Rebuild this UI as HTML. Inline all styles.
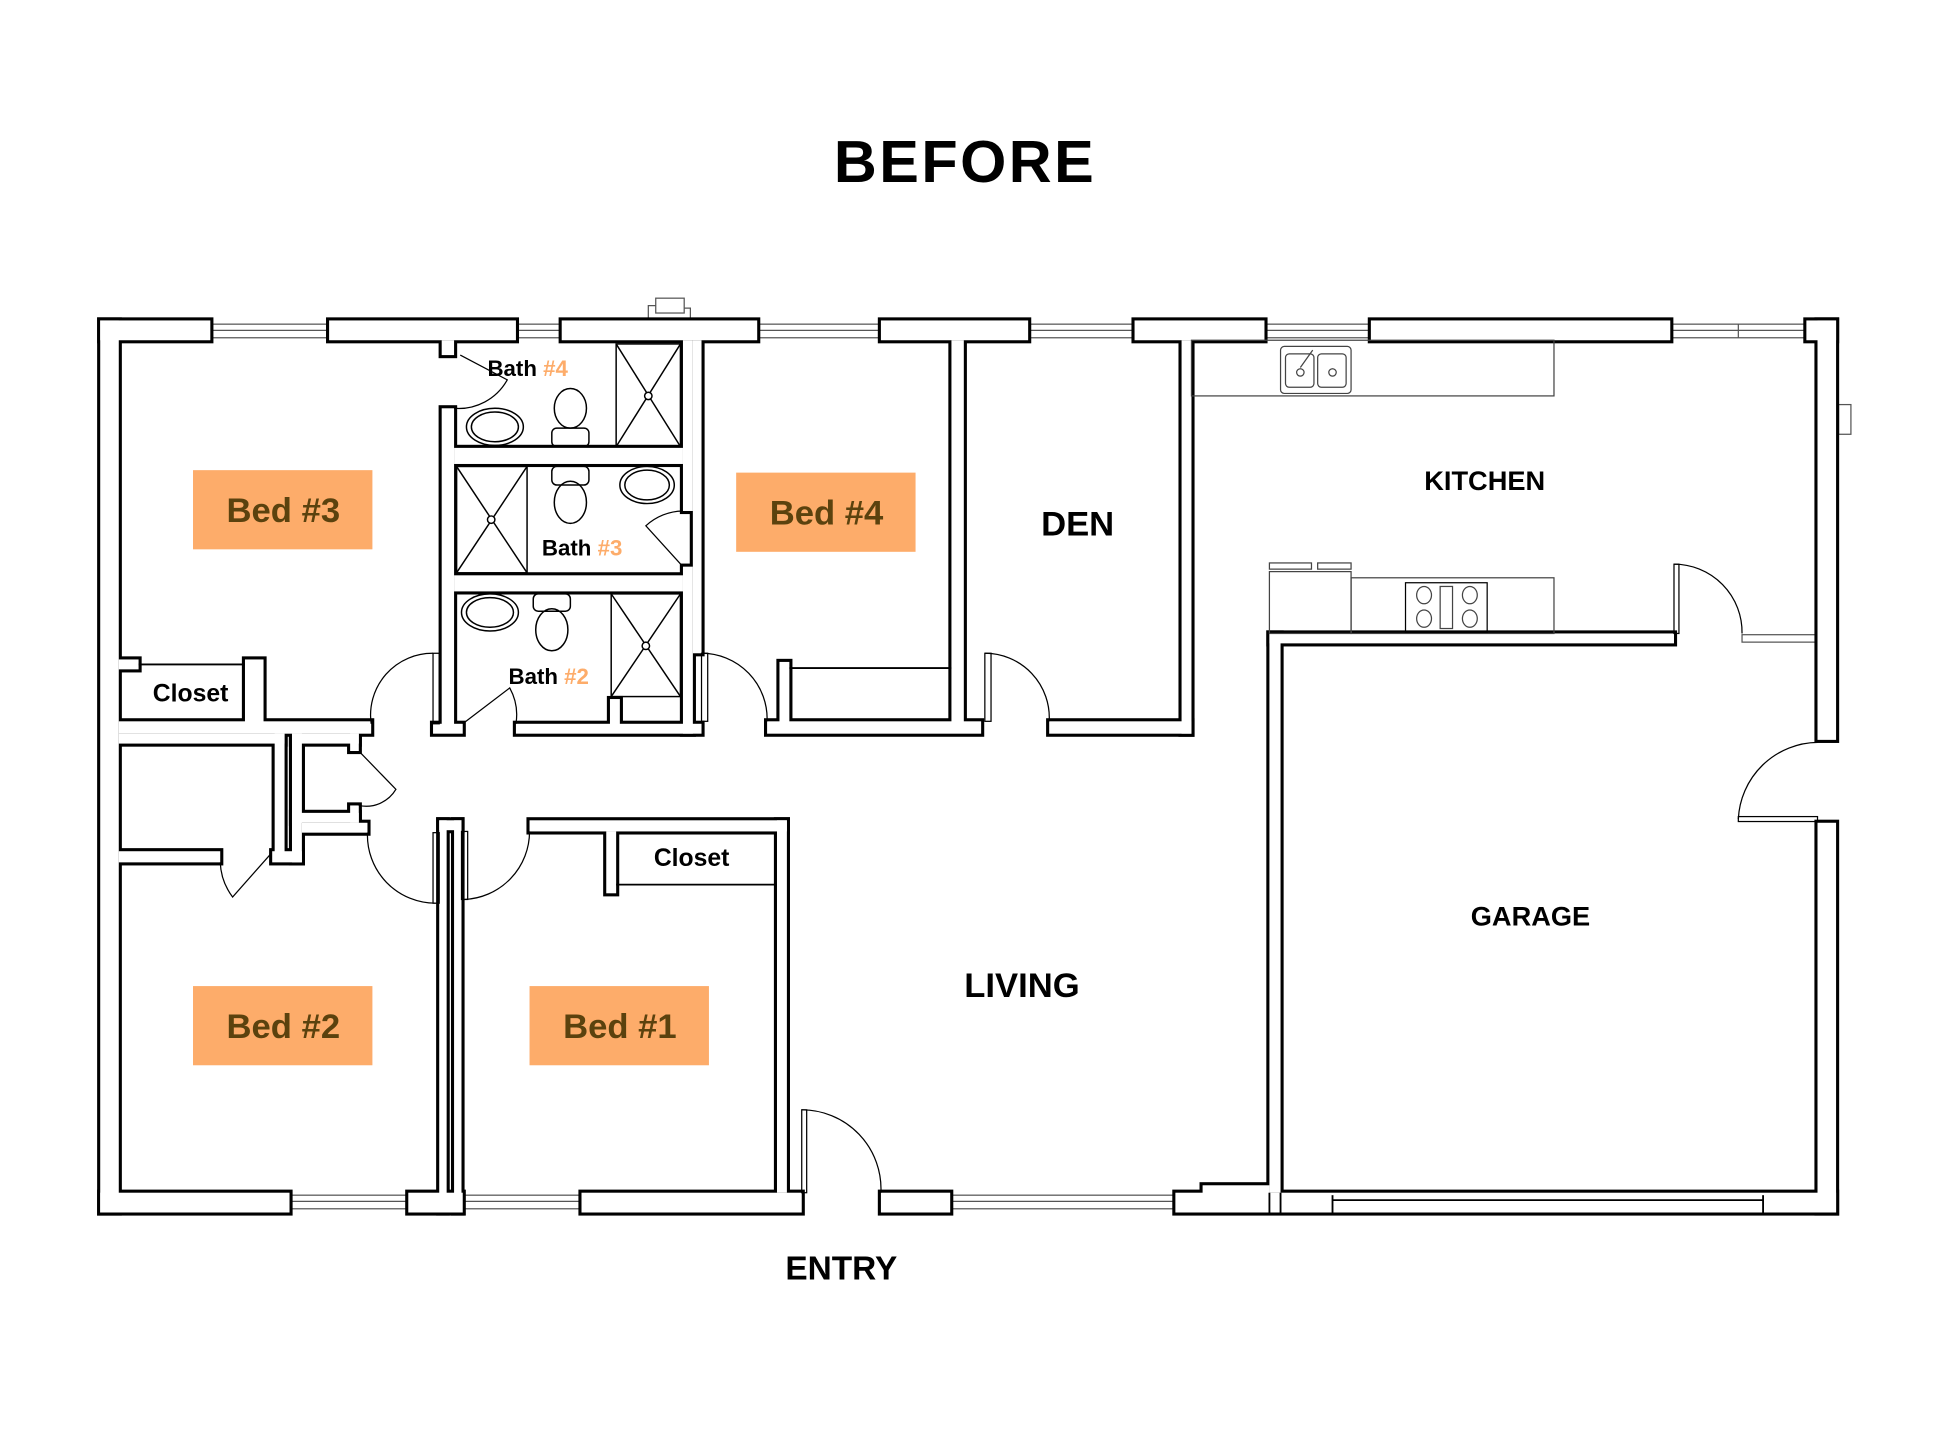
<!DOCTYPE html>
<html><head><meta charset="utf-8"><style>
html,body{margin:0;padding:0;background:#fff;}
svg{display:block;}
text{font-family:"Liberation Sans",sans-serif;}
</style></head><body>
<svg width="1940" height="1455" viewBox="0 0 1568 1176" preserveAspectRatio="none" xmlns="http://www.w3.org/2000/svg">
<defs>
<g id="walls">
<rect x="81" y="259" width="15" height="721"/>
<rect x="81" y="259" width="89" height="16"/>
<rect x="266" y="259" width="151" height="16"/>
<rect x="454" y="259" width="158" height="16"/>
<rect x="712" y="259" width="119" height="16"/>
<rect x="917" y="259" width="105" height="16"/>
<rect x="1108" y="259" width="242" height="16"/>
<rect x="1460" y="259" width="24" height="16"/>
<rect x="1469" y="259" width="15" height="339"/>
<rect x="1469" y="665" width="15" height="315"/>
<rect x="81" y="964" width="153" height="16"/>
<rect x="330" y="964" width="44" height="16"/>
<rect x="470" y="964" width="178" height="16"/>
<rect x="712" y="964" width="56" height="16"/>
<rect x="950" y="964" width="534" height="16"/>
<rect x="972" y="958" width="54" height="8"/>
<rect x="357" y="330" width="10" height="262"/>
<rect x="357" y="275" width="10" height="12"/>
<rect x="552" y="275" width="8" height="138"/>
<rect x="552" y="458" width="8" height="135"/>
<rect x="560" y="275" width="7" height="253"/>
<rect x="367" y="362" width="185" height="13"/>
<rect x="367" y="465" width="185" height="13"/>
<rect x="417" y="585" width="150" height="8"/>
<rect x="493" y="565" width="8" height="22"/>
<rect x="350" y="585" width="24" height="8"/>
<rect x="96" y="583" width="204" height="10"/>
<rect x="96" y="533" width="16" height="8"/>
<rect x="198" y="533" width="15" height="52"/>
<rect x="620" y="583" width="173" height="10"/>
<rect x="630" y="535" width="8" height="50"/>
<rect x="769" y="275" width="10" height="310"/>
<rect x="848" y="583" width="115" height="10"/>
<rect x="955" y="275" width="8" height="318"/>
<rect x="1026" y="512" width="327" height="8"/>
<rect x="1026" y="512" width="9" height="452"/>
<rect x="96" y="593" width="134" height="8"/>
<rect x="222" y="593" width="8" height="97"/>
<rect x="96" y="688" width="82" height="9"/>
<rect x="220" y="688" width="24" height="9"/>
<rect x="236" y="593" width="8" height="104"/>
<rect x="236" y="593" width="54" height="8"/>
<rect x="236" y="657" width="54" height="8"/>
<rect x="283" y="593" width="7" height="14"/>
<rect x="283" y="651" width="7" height="14"/>
<rect x="244" y="665" width="53" height="8"/>
<rect x="355" y="663" width="18" height="8"/>
<rect x="355" y="663" width="6" height="317"/>
<rect x="367" y="663" width="6" height="317"/>
<rect x="428" y="663" width="208" height="9"/>
<rect x="628" y="663" width="8" height="301"/>
<rect x="490" y="672" width="8" height="50"/>
</g>
</defs>
<rect width="1568" height="1176" fill="#fff"/>
<text x="780" y="147" text-anchor="middle" font-size="48" font-weight="bold" letter-spacing="2">BEFORE</text>

<g fill="#fff" stroke="#555" stroke-width="1">
<rect x="170" y="262" width="96" height="11"/><line x1="170" y1="267" x2="266" y2="267"/>
<rect x="417" y="262" width="37" height="11"/><line x1="417" y1="267" x2="454" y2="267"/>
<rect x="612" y="262" width="100" height="11"/><line x1="612" y1="267" x2="712" y2="267"/>
<rect x="831" y="262" width="86" height="11"/><line x1="831" y1="267" x2="917" y2="267"/>
<rect x="1022" y="262" width="86" height="11"/><line x1="1022" y1="267" x2="1108" y2="267"/>
<rect x="1350" y="262" width="110" height="11"/><line x1="1350" y1="267" x2="1460" y2="267"/><line x1="1405" y1="262" x2="1405" y2="273"/>
<rect x="234" y="966" width="96" height="11"/><line x1="234" y1="971" x2="330" y2="971"/>
<rect x="374" y="966" width="96" height="11"/><line x1="374" y1="971" x2="470" y2="971"/>
<rect x="768" y="966" width="182" height="11"/><line x1="768" y1="971" x2="950" y2="971"/>
<rect x="1408" y="513" width="61" height="6"/>
<rect x="1486" y="327" width="10" height="24"/>
<rect x="530" y="241" width="23" height="12"/>
<path d="M524 265 V247 H530 M553 249 H558 V265" fill="none"/>
</g>

<use href="#walls" fill="#000" stroke="#000" stroke-width="5"/>
<use href="#walls" fill="#fff" stroke="none"/>

<g fill="none" stroke="#000" stroke-width="1.5">
<line x1="1077" y1="966" x2="1077" y2="980"/><line x1="1425" y1="966" x2="1425" y2="980"/>
<line x1="1077" y1="970" x2="1425" y2="970"/>
<line x1="1026" y1="964" x2="1026" y2="980"/><line x1="1035" y1="964" x2="1035" y2="980"/>
<line x1="112" y1="537" x2="198" y2="537"/>
<line x1="498" y1="715" x2="628" y2="715"/>
<line x1="638" y1="540" x2="769" y2="540"/>
</g>

<g fill="none" stroke="#444" stroke-width="1">
<rect x="963" y="275" width="293" height="45"/>
<rect x="1035" y="280" width="57" height="38" rx="3"/>
<rect x="1039" y="286" width="23" height="27" rx="3"/><rect x="1065" y="286" width="23" height="27" rx="3"/>
<circle cx="1051" cy="301" r="3"/><circle cx="1077" cy="301" r="3"/>
<line x1="1051" y1="297" x2="1061" y2="283"/>
<rect x="1026" y="462" width="66" height="50"/>
<rect x="1026" y="455" width="34" height="5"/><rect x="1065" y="455" width="27" height="5"/>
<rect x="1092" y="467" width="164" height="45"/>
<rect x="1136" y="471" width="66" height="40" stroke="#000"/>
<ellipse cx="1151" cy="481" rx="6" ry="7"/><ellipse cx="1188" cy="481" rx="6" ry="7"/>
<ellipse cx="1151" cy="500" rx="6" ry="7"/><ellipse cx="1188" cy="500" rx="6" ry="7"/>
<rect x="1164" y="474" width="10" height="34"/>
</g>

<g fill="none" stroke="#000" stroke-width="1.2">
<rect x="498" y="278" width="52" height="83"/><line x1="498" y1="278" x2="550" y2="361"/><line x1="550" y1="278" x2="498" y2="361"/><circle cx="524" cy="320" r="3" fill="#fff"/>
<ellipse cx="400" cy="345" rx="23" ry="15"/><ellipse cx="400" cy="345" rx="19" ry="12"/>
<ellipse cx="461" cy="330" rx="13" ry="16"/><rect x="446" y="346" width="30" height="15" rx="4"/>
<rect x="369" y="377" width="57" height="86"/><line x1="369" y1="377" x2="426" y2="463"/><line x1="426" y1="377" x2="369" y2="463"/><circle cx="397" cy="420" r="3" fill="#fff"/>
<ellipse cx="523" cy="392" rx="22" ry="15"/><ellipse cx="523" cy="392" rx="18" ry="12"/>
<rect x="446" y="377" width="30" height="15" rx="4"/><ellipse cx="461" cy="406" rx="13" ry="17"/>
<rect x="494" y="480" width="56" height="83"/><line x1="494" y1="480" x2="550" y2="563"/><line x1="550" y1="480" x2="494" y2="563"/><circle cx="522" cy="522" r="3" fill="#fff"/>
<ellipse cx="396" cy="495" rx="23" ry="15"/><ellipse cx="396" cy="495" rx="19" ry="12"/>
<rect x="431" y="480" width="30" height="14" rx="4"/><ellipse cx="446" cy="509" rx="13" ry="17"/>
</g>

<g fill="none" stroke="#000" stroke-width="1">
<path d="M367 330 A45 45 0 0 0 410 307 L372 287"/>
<path d="M552 413 A45 45 0 0 0 522 425 L552 458"/>
<path d="M374 585 L412 556 A45 45 0 0 1 417 585"/>
<path d="M350 528 A50 50 0 0 0 300 585"/><rect x="350" y="528" width="5" height="57"/>
<path d="M567 528 A53 53 0 0 1 620 583"/><rect x="567" y="528" width="5" height="55"/>
<path d="M796 528 A52 52 0 0 1 848 583"/><rect x="796" y="528" width="5" height="55"/>
<path d="M290 607 L320 638 A28 28 0 0 1 290 651"/>
<path d="M178 697 A50 50 0 0 0 188 725 L219 690"/>
<path d="M297 673 A55 55 0 0 0 352 730"/><rect x="350" y="673" width="5" height="57"/>
<path d="M428 672 A55 55 0 0 1 375 727"/><rect x="373" y="672" width="5" height="55"/>
<path d="M648 897 A64 64 0 0 1 712 964"/><rect x="648" y="897" width="4" height="67"/>
<path d="M1353 456 A55 55 0 0 1 1408 512"/><rect x="1353" y="456" width="4" height="56"/>
<path d="M1469 600 A65 65 0 0 0 1405 662"/><rect x="1405" y="660" width="64" height="4"/>
</g>

<g font-weight="bold">
<rect x="156" y="380" width="145" height="64" fill="#fdac6a"/>
<text x="229" y="422" text-anchor="middle" font-size="28" fill="#5b420e">Bed #3</text>
<rect x="595" y="382" width="145" height="64" fill="#fdac6a"/>
<text x="668" y="424" text-anchor="middle" font-size="28" fill="#5b420e">Bed #4</text>
<rect x="156" y="797" width="145" height="64" fill="#fdac6a"/>
<text x="229" y="839" text-anchor="middle" font-size="28" fill="#5b420e">Bed #2</text>
<rect x="428" y="797" width="145" height="64" fill="#fdac6a"/>
<text x="501" y="839" text-anchor="middle" font-size="28" fill="#5b420e">Bed #1</text>
<text x="394" y="304" font-size="18">Bath <tspan fill="#fdac6a">#4</tspan></text>
<text x="438" y="449" font-size="18">Bath <tspan fill="#fdac6a">#3</tspan></text>
<text x="411" y="553" font-size="18">Bath <tspan fill="#fdac6a">#2</tspan></text>
<text x="154" y="567" text-anchor="middle" font-size="20">Closet</text>
<text x="559" y="700" text-anchor="middle" font-size="20">Closet</text>
<text x="871" y="433" text-anchor="middle" font-size="28">DEN</text>
<text x="1200" y="396" text-anchor="middle" font-size="22">KITCHEN</text>
<text x="1237" y="748" text-anchor="middle" font-size="22">GARAGE</text>
<text x="826" y="806" text-anchor="middle" font-size="28">LIVING</text>
<text x="680" y="1034" text-anchor="middle" font-size="27">ENTRY</text>
</g>
</svg>
</body></html>
